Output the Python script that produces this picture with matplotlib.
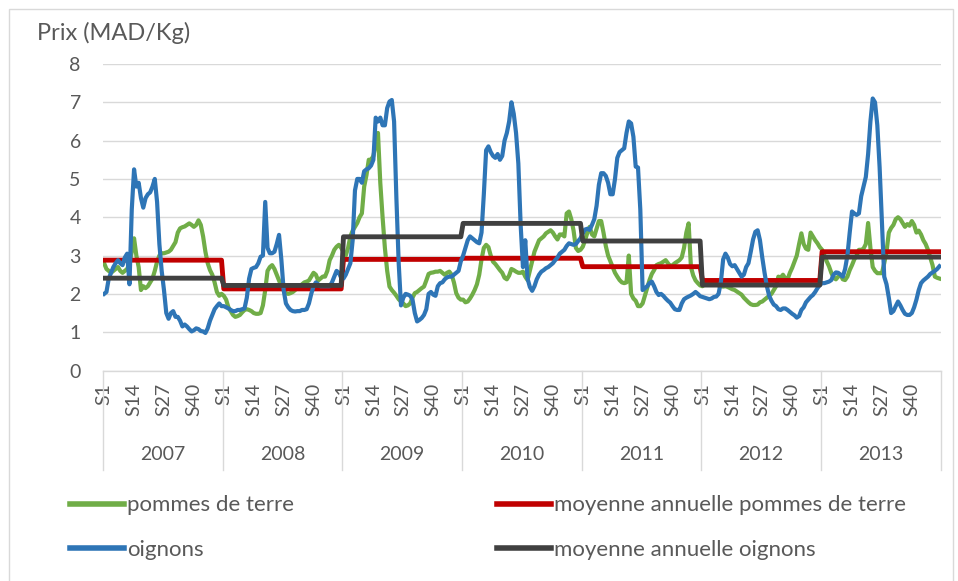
import numpy as np
import matplotlib
matplotlib.use("Agg")
import matplotlib.pyplot as plt
from matplotlib.transforms import blended_transform_factory
from matplotlib.patches import Rectangle

plt.rcParams['font.family'] = ['Lato', 'DejaVu Sans']

years = ["2007", "2008", "2009", "2010", "2011", "2012", "2013"]
week_ticks = ["S1", "S14", "S27", "S40"]
week_tick_idx = [0, 13, 26, 39]

potato_2007 = [2.8,2.65,2.6,2.55,2.6,2.65,2.7,2.6,2.55,2.6,2.65,2.8,3.1,3.45,3.0,2.7,2.1,2.2,2.15,2.2,2.3,2.4,2.6,2.84,3.0,3.06,3.06,3.08,3.1,3.15,3.25,3.35,3.6,3.71,3.74,3.76,3.8,3.84,3.8,3.75,3.8,3.92,3.8,3.5,3.1,2.8,2.62,2.5,2.3,2.05,1.95,2.0]
potato_2008 = [1.95,1.85,1.65,1.55,1.45,1.4,1.42,1.45,1.52,1.58,1.6,1.58,1.55,1.5,1.48,1.48,1.5,1.7,2.1,2.6,2.7,2.75,2.65,2.5,2.35,2.2,2.1,2.02,2.0,2.02,2.05,2.1,2.18,2.2,2.25,2.3,2.32,2.35,2.45,2.55,2.5,2.35,2.4,2.45,2.45,2.6,2.88,3.0,3.15,3.23,3.28,3.2]
potato_2009 = [3.1,3.0,3.2,3.5,3.65,3.75,3.85,4.0,4.1,4.8,5.1,5.5,5.5,5.6,5.9,6.2,4.9,4.0,3.2,2.6,2.19,2.1,2.03,1.95,1.86,1.8,1.75,1.68,1.7,1.75,1.9,2.02,2.05,2.1,2.15,2.19,2.35,2.52,2.55,2.56,2.58,2.58,2.6,2.55,2.5,2.55,2.58,2.5,2.3,2.02,1.9,1.85]
potato_2010 = [1.85,1.78,1.8,1.88,1.98,2.1,2.25,2.5,2.9,3.2,3.28,3.22,3.0,2.84,2.78,2.7,2.62,2.55,2.42,2.38,2.48,2.65,2.62,2.58,2.55,2.55,2.58,2.45,2.36,2.6,2.85,3.1,3.25,3.4,3.45,3.5,3.58,3.62,3.66,3.6,3.5,3.42,3.55,3.55,3.5,4.1,4.15,3.95,3.65,3.2,3.12,3.15]
potato_2011 = [3.23,3.4,3.6,3.75,3.55,3.5,3.7,3.9,3.9,3.6,3.25,3.0,2.85,2.7,2.55,2.45,2.36,2.3,2.28,2.3,3.0,2.0,1.88,1.82,1.68,1.68,1.75,1.95,2.15,2.36,2.52,2.62,2.75,2.78,2.8,2.84,2.88,2.8,2.72,2.75,2.8,2.84,2.88,2.95,3.2,3.6,3.84,2.7,2.48,2.35,2.28,2.22]
potato_2012 = [2.2,2.25,2.28,2.3,2.28,2.28,2.28,2.22,2.2,2.19,2.2,2.18,2.15,2.12,2.1,2.06,2.02,1.98,1.9,1.84,1.78,1.73,1.71,1.71,1.72,1.78,1.8,1.85,1.9,1.95,2.0,2.1,2.2,2.45,2.42,2.5,2.4,2.38,2.55,2.68,2.84,3.0,3.3,3.58,3.3,3.18,3.15,3.6,3.5,3.4,3.32,3.22]
potato_2013 = [3.15,3.0,2.85,2.72,2.55,2.42,2.38,2.45,2.5,2.38,2.36,2.45,2.62,2.75,2.9,3.0,3.15,3.15,3.18,3.3,3.85,3.2,2.7,2.6,2.54,2.54,2.54,2.8,3.1,3.6,3.72,3.8,3.95,4.0,3.95,3.85,3.75,3.82,3.78,3.9,3.8,3.6,3.65,3.55,3.4,3.3,3.15,2.95,2.75,2.45,2.42,2.4]

onion_2007 = [2.0,2.05,2.4,2.55,2.7,2.8,2.88,2.8,2.75,2.95,3.05,2.25,4.2,5.25,4.8,4.9,4.5,4.25,4.5,4.6,4.65,4.8,5.0,4.4,3.3,2.6,2.1,1.5,1.35,1.5,1.55,1.4,1.4,1.3,1.15,1.2,1.15,1.08,1.02,1.05,1.1,1.08,1.03,1.02,0.98,1.1,1.3,1.45,1.6,1.68,1.75,1.68]
onion_2008 = [1.68,1.65,1.62,1.58,1.55,1.55,1.58,1.58,1.6,1.62,1.9,2.4,2.65,2.68,2.7,2.8,2.97,3.0,4.4,3.2,3.06,3.06,3.1,3.3,3.54,2.9,2.1,1.75,1.65,1.58,1.55,1.54,1.55,1.55,1.58,1.58,1.6,1.75,2.0,2.2,2.3,2.25,2.2,2.2,2.2,2.2,2.2,2.3,2.45,2.6,2.55,2.42]
onion_2009 = [2.4,2.5,2.65,2.8,3.4,4.7,5.0,5.0,4.9,5.2,5.25,5.28,5.35,5.5,6.6,6.5,6.6,6.4,6.4,6.85,7.02,7.06,6.5,4.5,2.8,1.7,1.9,2.0,1.98,1.95,1.85,1.5,1.28,1.32,1.37,1.45,1.6,2.0,2.05,1.98,1.95,2.2,2.28,2.3,2.38,2.43,2.45,2.45,2.5,2.55,2.6,2.85]
onion_2010 = [3.0,3.2,3.4,3.5,3.45,3.4,3.35,3.32,3.6,4.6,5.75,5.85,5.7,5.6,5.55,5.65,5.5,5.6,6.0,6.2,6.5,7.0,6.7,6.2,5.4,3.8,2.7,3.4,2.4,2.18,2.08,2.2,2.38,2.5,2.58,2.62,2.67,2.7,2.75,2.8,2.88,2.95,3.05,3.1,3.15,3.25,3.32,3.3,3.28,3.3,3.38,3.45]
onion_2011 = [3.58,3.68,3.7,3.67,3.8,3.95,4.3,4.85,5.15,5.15,5.08,4.9,4.6,4.6,5.0,5.55,5.7,5.75,5.8,6.2,6.5,6.45,6.1,5.32,5.3,4.2,2.1,2.15,2.2,2.28,2.32,2.2,2.05,1.97,2.0,1.95,1.88,1.82,1.77,1.68,1.6,1.58,1.58,1.75,1.86,1.9,1.93,1.96,2.0,2.05,2.0,1.94]
onion_2012 = [1.92,1.9,1.88,1.86,1.88,1.92,1.93,2.0,2.3,2.9,3.05,2.95,2.78,2.72,2.75,2.65,2.55,2.45,2.5,2.7,2.8,3.1,3.42,3.62,3.66,3.4,2.95,2.55,2.2,1.95,1.82,1.72,1.68,1.6,1.58,1.62,1.62,1.58,1.53,1.48,1.44,1.38,1.42,1.58,1.65,1.78,1.85,1.92,1.97,2.05,2.15,2.23]
onion_2013 = [2.28,2.28,2.3,2.32,2.36,2.5,2.56,2.55,2.5,2.45,2.65,3.0,3.6,4.15,4.1,4.06,4.1,4.55,4.8,5.05,5.65,6.5,7.1,7.0,6.4,5.3,3.9,2.45,2.25,1.9,1.5,1.55,1.68,1.8,1.7,1.58,1.48,1.45,1.45,1.5,1.65,1.85,2.1,2.28,2.35,2.4,2.45,2.52,2.56,2.6,2.65,2.72]

potato_annual_mean = [2.88, 2.13, 2.90, 2.93, 2.71, 2.35, 3.10]
onion_annual_mean = [2.41, 2.22, 3.49, 3.84, 3.38, 2.23, 2.96]

potato = np.array(potato_2007 + potato_2008 + potato_2009 + potato_2010 + potato_2011 + potato_2012 + potato_2013)
onion = np.array(onion_2007 + onion_2008 + onion_2009 + onion_2010 + onion_2011 + onion_2012 + onion_2013)
weeks_per_year = 52
n = len(potato)
x = np.arange(n)
potato_mean = np.repeat(potato_annual_mean, weeks_per_year)
onion_mean = np.repeat(onion_annual_mean, weeks_per_year)

TXT = '#595959'
GRID = '#d9d9d9'
W, H = 958, 581
fig = plt.figure(figsize=(W/100, H/100), dpi=100)
fig.patch.set_facecolor('white')
fig.add_artist(Rectangle((9/W, -0.05), (953-9)/W, 1.05 - 9/H, transform=fig.transFigure,
                         fill=False, edgecolor=GRID, lw=1.0))

ax = fig.add_axes([103/W, (H-370.5)/H, 837.6/W, 306.5/H])
l_pot, = ax.plot(x, potato, color='#70AD47', lw=3.0, solid_joinstyle='round', label='pommes de terre')
l_potm, = ax.plot(x, potato_mean, color='#C00000', lw=3.5, label='moyenne annuelle pommes de terre')
l_oni, = ax.plot(x, onion, color='#2E75B6', lw=3.0, solid_joinstyle='round', label='oignons')
l_onim, = ax.plot(x, onion_mean, color='#404040', lw=3.5, label='moyenne annuelle oignons')

ax.set_xlim(-0.5, n - 0.5)
ax.set_ylim(0, 8)
ax.set_yticks(range(0, 9))
ax.grid(axis='y', color=GRID, lw=1.0)
ax.set_axisbelow(True)
for s in ['top', 'right', 'left']:
    ax.spines[s].set_visible(False)
ax.spines['bottom'].set_color(GRID)
ax.spines['bottom'].set_linewidth(1.0)

ax.tick_params(axis='y', length=0, pad=16, labelsize=14, labelcolor=TXT)
ticks = [k*weeks_per_year + w for k in range(len(years)) for w in week_tick_idx]
labels = [lab for k in range(len(years)) for lab in week_ticks]
ax.set_xticks(ticks)
ax.set_xticklabels(labels, rotation=90, fontsize=14, color=TXT)
ax.tick_params(axis='x', length=0, pad=9)

trans = blended_transform_factory(ax.transData, ax.transAxes)
sep_bottom = (370.5 - 470) / 306.5
for k in range(len(years) + 1):
    ax.plot([k*weeks_per_year - 0.5]*2, [0, sep_bottom], transform=trans, color=GRID,
            lw=1.0, clip_on=False)
for k, yr in enumerate(years):
    ax.text(k*weeks_per_year + (weeks_per_year - 1)/2, (370.5 - 455)/306.5, yr,
            transform=trans, ha='center', va='center', fontsize=14, color=TXT)

fig.text(37/W, 1 - 33/H, 'Prix (MAD/Kg)', ha='left', va='center', fontsize=17, color=TXT)

leg_kw = dict(frameon=False, fontsize=16, labelcolor=TXT, handlelength=2.45, handletextpad=0.12,
              labelspacing=1.1, borderpad=0, borderaxespad=0, loc='center left')
lg1 = fig.legend(handles=[l_pot, l_oni], bbox_to_anchor=(70/W, 1 - 527.5/H), **leg_kw)
lg2 = fig.legend(handles=[l_potm, l_onim], bbox_to_anchor=(497/W, 1 - 527.5/H), **leg_kw)
for lg in (lg1, lg2):
    for h in lg.legend_handles:
        h.set_linewidth(4)

fig.savefig('out.png', dpi=100)
